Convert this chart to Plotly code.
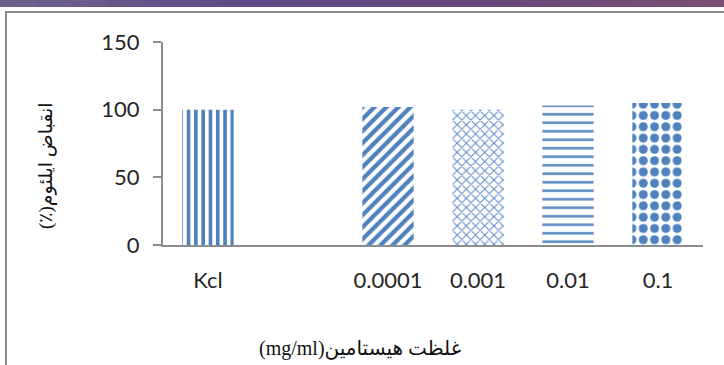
import plotly.graph_objects as go

# Histamine concentration groups and ileum contraction (% of KCl response)
categories = ["Kcl", "0.0001", "0.001", "0.01", "0.1"]
slot_order = ["Kcl", " ", "0.0001", "0.001", "0.01", "0.1"]
contraction = [100, 102, 100, 103, 105]
y_ticks = [0, 50, 100, 150]

BLUE = "#4f81bd"
AXIS_GRAY = "#8c8c8c"

pattern_shape = ["|", "/", "x", "-", "."]
pattern_size = [7.3, 8.5, 6.5, 8.5, 11.3]
pattern_solidity = [0.5, 0.5, 0.3, 0.3, 0.5]
pattern_fg = [BLUE, BLUE, "#5a8ac4", "#5a8ac4", BLUE]

W, H = 724, 365
ML, MR, MT, MB = 163, 21, 42, 120
PW, PH = W - ML - MR, H - MT - MB


def px_x(px):
    return (px - ML) / PW


def px_y(py):
    return (H - MB - py) / PH


fig = go.Figure(
    go.Bar(
        x=categories,
        y=contraction,
        marker=dict(
            color=BLUE,
            line=dict(width=0),
            pattern=dict(
                shape=pattern_shape,
                size=pattern_size,
                solidity=pattern_solidity,
                fgcolor=pattern_fg,
                fillmode="replace",
            ),
        ),
        width=0.57,
        hoverinfo="x+y",
    )
)

# gradient band along the top edge
stops = [(0.0, (0x70, 0x62, 0x8e)), (0.35, (0x5f, 0x48, 0x84)),
         (0.65, (0x66, 0x48, 0x7c)), (1.0, (0x7c, 0x50, 0x72))]


def band_color(t):
    for (t0, c0), (t1, c1) in zip(stops[:-1], stops[1:]):
        if t0 <= t <= t1:
            f = (t - t0) / (t1 - t0)
            r, g, b = (round(a + (b_ - a) * f) for a, b_ in zip(c0, c1))
            return f"rgb({r},{g},{b})"
    return "rgb(124,80,114)"


shapes = []
n_seg = 40
for i in range(n_seg):
    x0 = i * W / n_seg
    x1 = (i + 1) * W / n_seg + 1
    shapes.append(dict(
        type="rect", xref="paper", yref="paper",
        x0=px_x(x0), x1=px_x(x1), y0=px_y(7), y1=px_y(-5),
        line=dict(width=0), fillcolor=band_color((i + 0.5) / n_seg), layer="below",
    ))

# chart frame (continues past the right and bottom edges)
shapes.append(dict(
    type="rect", xref="paper", yref="paper",
    x0=px_x(6), x1=px_x(W + 20), y0=px_y(H + 20), y1=px_y(12),
    line=dict(color=AXIS_GRAY, width=2), fillcolor="rgba(0,0,0,0)", layer="below",
))

annotations = [
    dict(
        text="\u200fانقباض ایلئوم(٪)\u200f",
        xref="paper", yref="paper", x=px_x(46), y=px_y(166),
        xanchor="center", yanchor="middle", textangle=-90, showarrow=False,
        font=dict(family="Liberation Serif, DejaVu Sans, serif", size=19, color="#111"),
    ),
    dict(
        text="(mg/ml)غلظت هیستامین",
        xref="paper", yref="paper", x=px_x(360), y=px_y(348),
        xanchor="center", yanchor="middle", showarrow=False,
        font=dict(family="Liberation Serif, DejaVu Sans, serif", size=20, color="#111"),
    ),
]

fig.update_layout(
    width=W, height=H,
    margin=dict(l=ML, r=MR, t=MT, b=MB, pad=0),
    paper_bgcolor="white", plot_bgcolor="white",
    showlegend=False,
    bargap=0.43,
    shapes=shapes,
    annotations=annotations,
    font=dict(family="Lato, Open Sans, sans-serif", size=22, color="#262626"),
    xaxis=dict(
        type="category", categoryorder="array", categoryarray=slot_order,
        range=[-0.5, 5.5],
        showline=True, linecolor=AXIS_GRAY, linewidth=2,
        ticks="", showgrid=False, zeroline=False,
        tickfont=dict(size=22), ticklabelstandoff=15,
    ),
    yaxis=dict(
        range=[0, 150], tickvals=y_ticks,
        showline=True, linecolor=AXIS_GRAY, linewidth=2,
        ticks="outside", ticklen=8, tickwidth=2, tickcolor=AXIS_GRAY,
        showgrid=False, zeroline=False,
        tickfont=dict(size=22), ticklabelstandoff=9,
    ),
)

fig.write_html("out.html")
